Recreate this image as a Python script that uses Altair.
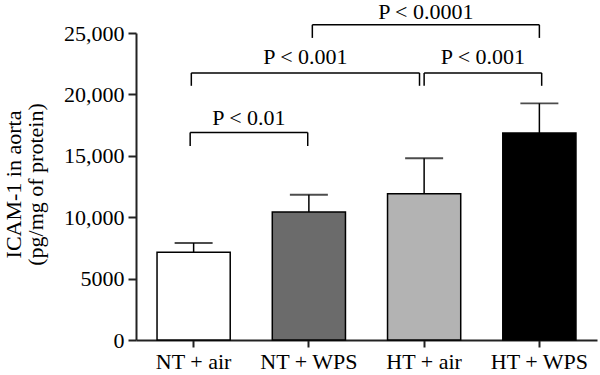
import altair as alt
import pandas as pd

groups = ["NT + air", "NT + WPS", "HT + air", "HT + WPS"]
means = [7150, 10420, 11900, 16850]
upper = [7900, 11830, 14800, 19270]
fills = ["#ffffff", "#6b6b6b", "#b3b3b3", "#000000"]

br_labels = ["P < 0.01", "P < 0.001", "P < 0.001", "P < 0.0001"]
br_start = [-0.03, -0.02, 2.0, 1.03]
br_end = [0.99, 1.96, 3.02, 3.0]
br_top = [16900, 21750, 21750, 25670]
br_leg = [15800, 20700, 20700, 24600]
br_text = [17500, 22480, 22480, 26150]

FONT = "Liberation Serif"
FS = 22

bars_df = pd.DataFrame({"group": groups, "mean": means, "upper": upper, "fill": fills})
br_df = pd.DataFrame({"label": br_labels, "x0": br_start, "x1": br_end,
                      "top": br_top, "leg": br_leg, "ty": br_text})

yscale = alt.Scale(domain=[0, 25000], nice=False)
xband = alt.Scale(type="band", domain=groups, paddingInner=0.365, paddingOuter=0.1825)

yaxis = alt.Axis(values=[0, 5000, 10000, 15000, 20000, 25000],
                 labelExpr="datum.value >= 10000 ? format(datum.value, ',') : format(datum.value, 'd')",
                 title=["ICAM-1 in aorta", "(pg/mg of protein)"],
                 labelFont=FONT, labelFontSize=FS, labelColor="black", labelPadding=4,
                 titleFont=FONT, titleFontSize=FS, titleFontWeight="normal", titleColor="black",
                 titleLineHeight=22, titleX=-133, titleY=151, titleAngle=-90,
                 titleAlign="center", titleBaseline="top", grid=False,
                 domainColor="#222222", domainWidth=2, tickColor="#222222", tickWidth=2, tickSize=8)
xaxis = alt.Axis(title=None, labelAngle=0, grid=False,
                 labelFont=FONT, labelFontSize=FS, labelColor="black", labelPadding=4,
                 domainColor="#222222", domainWidth=2, tickColor="#222222", tickWidth=2, tickSize=7)

base = alt.Chart(bars_df)
bars = base.mark_bar(stroke="black", strokeWidth=1.5).encode(
    x=alt.X("group:N", scale=xband, sort=groups, axis=xaxis),
    y=alt.Y("mean:Q", scale=yscale, axis=yaxis),
    fill=alt.Fill("fill:N", scale=None),
)
stem = base.mark_rule(color="black", strokeWidth=1.5).encode(
    x=alt.X("group:N", scale=xband, sort=groups),
    y=alt.Y("mean:Q", scale=yscale),
    y2="upper:Q",
)
cap = base.mark_tick(orient="horizontal", size=38, thickness=1.8, color="black").encode(
    x=alt.X("group:N", scale=xband, sort=groups),
    y=alt.Y("upper:Q", scale=yscale),
)
main = alt.layer(bars, stem, cap)

xq = alt.Scale(domain=[-0.5, 3.5], nice=False, zero=False)
bb = alt.Chart(br_df)
hline = bb.mark_rule(color="black", strokeWidth=1.5).encode(
    x=alt.X("x0:Q", scale=xq, axis=None), x2="x1:Q",
    y=alt.Y("top:Q", scale=yscale))
leg_l = bb.mark_rule(color="black", strokeWidth=1.5).encode(
    x=alt.X("x0:Q", scale=xq, axis=None),
    y=alt.Y("leg:Q", scale=yscale), y2="top:Q")
leg_r = bb.mark_rule(color="black", strokeWidth=1.5).encode(
    x=alt.X("x1:Q", scale=xq, axis=None),
    y=alt.Y("leg:Q", scale=yscale), y2="top:Q")
txt = bb.transform_calculate(mid="(datum.x0 + datum.x1) / 2").mark_text(
    font=FONT, fontSize=FS, color="black", baseline="alphabetic", align="center").encode(
    x=alt.X("mid:Q", scale=xq, axis=None),
    y=alt.Y("ty:Q", scale=yscale),
    text="label:N")
ann = alt.layer(hline, leg_l, leg_r, txt)

chart = alt.layer(main, ann).resolve_scale(x="independent").properties(
    width=461, height=307,
    padding={"left": 136, "top": 33, "right": 3, "bottom": 35},
    autosize="none",
).configure_view(stroke=None)

chart.save("out.html", embed_options={"renderer": "svg", "actions": False})
